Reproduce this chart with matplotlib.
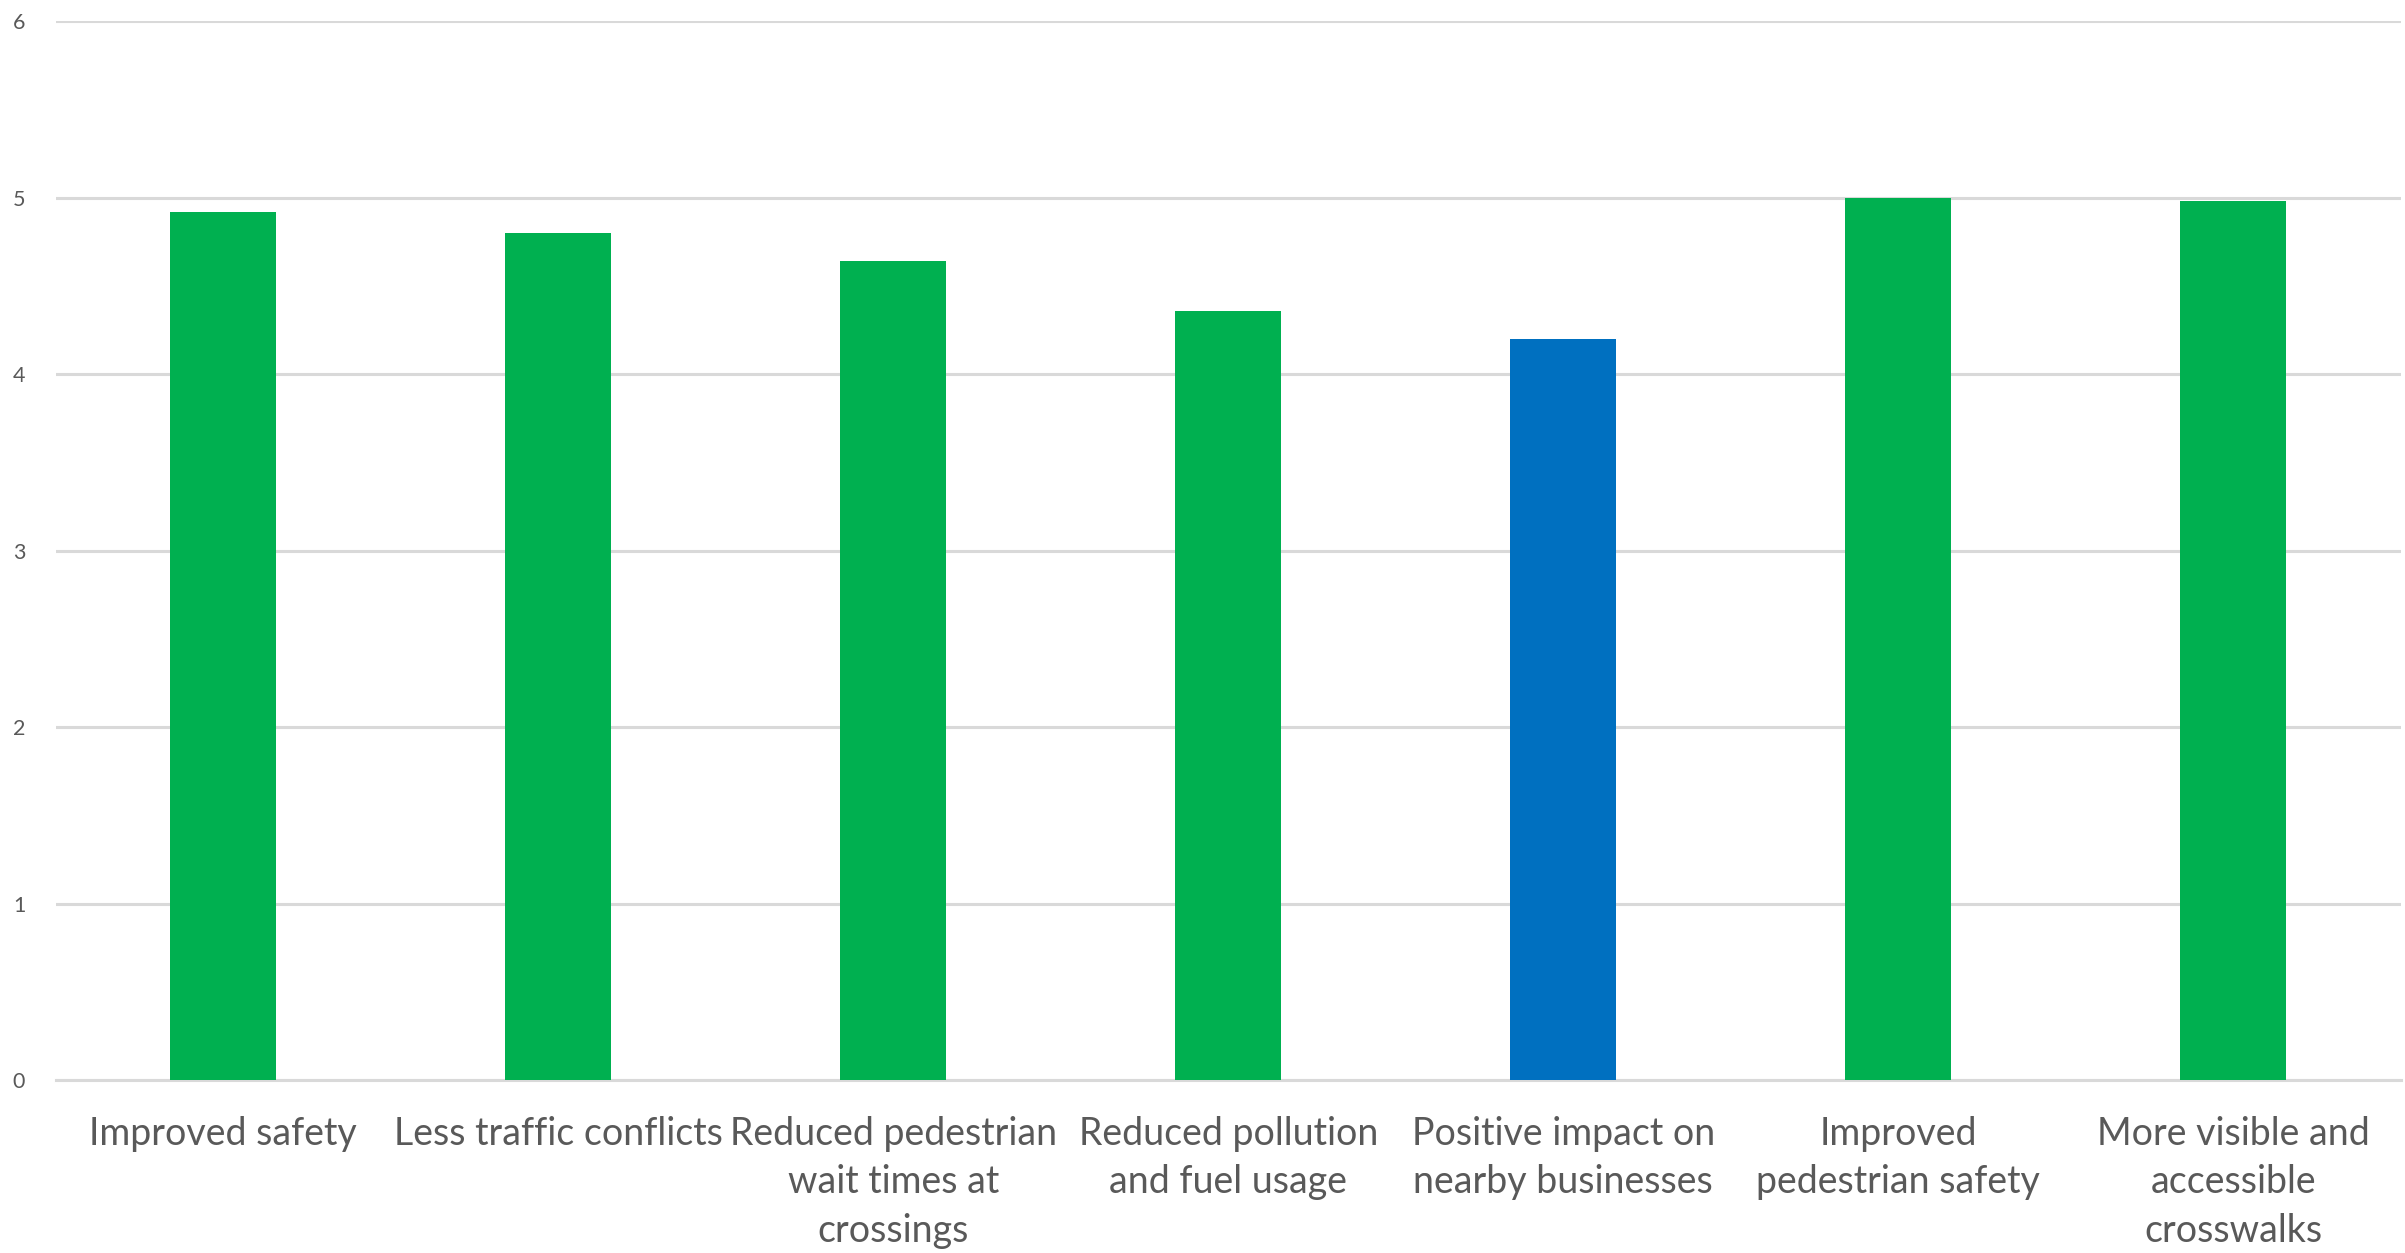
import matplotlib
matplotlib.use("Agg")
import matplotlib.pyplot as plt
import numpy as np

# survey categories and mean scores
categories = [
    "Improved safety",
    "Less traffic conflicts",
    "Reduced pedestrian\nwait times at\ncrossings",
    "Reduced pollution\nand fuel usage",
    "Positive impact on\nnearby businesses",
    "Improved\npedestrian safety",
    "More visible and\naccessible\ncrosswalks",
]
scores = [4.92, 4.80, 4.64, 4.36, 4.20, 5.00, 4.98]
bar_colors = ["#00B050", "#00B050", "#00B050", "#00B050", "#0070C0", "#00B050", "#00B050"]
yticks = [0, 1, 2, 3, 4, 5, 6]

plt.rcParams['font.family'] = ['Lato', 'DejaVu Sans']

fig = plt.figure(figsize=(24.05, 12.53), dpi=100)
ax = fig.add_axes([0.0232, 0.138, 0.975, 0.845])

x = np.arange(len(categories))
ax.bar(x, scores, width=0.316, color=bar_colors, zorder=3)

ax.set_xlim(-0.5, len(categories) - 0.5)
ax.set_ylim(0, 6)
ax.set_yticks(yticks)
ax.set_yticklabels([str(t) for t in yticks], fontsize=15.5, color="#595959")
ax.set_xticks(x)
ax.set_xticklabels(categories, fontsize=27, color="#595959", linespacing=1.42)

ax.grid(axis="y", color="#d9d9d9", linewidth=2.2, zorder=0)
ax.tick_params(axis="both", length=0)
ax.tick_params(axis="x", pad=26)
ax.tick_params(axis="y", pad=22)
for side in ["top", "right", "left"]:
    ax.spines[side].set_visible(False)
ax.spines["bottom"].set_color("#d9d9d9")
ax.spines["bottom"].set_linewidth(2.2)

fig.savefig("out.png", dpi=100, facecolor="white")
